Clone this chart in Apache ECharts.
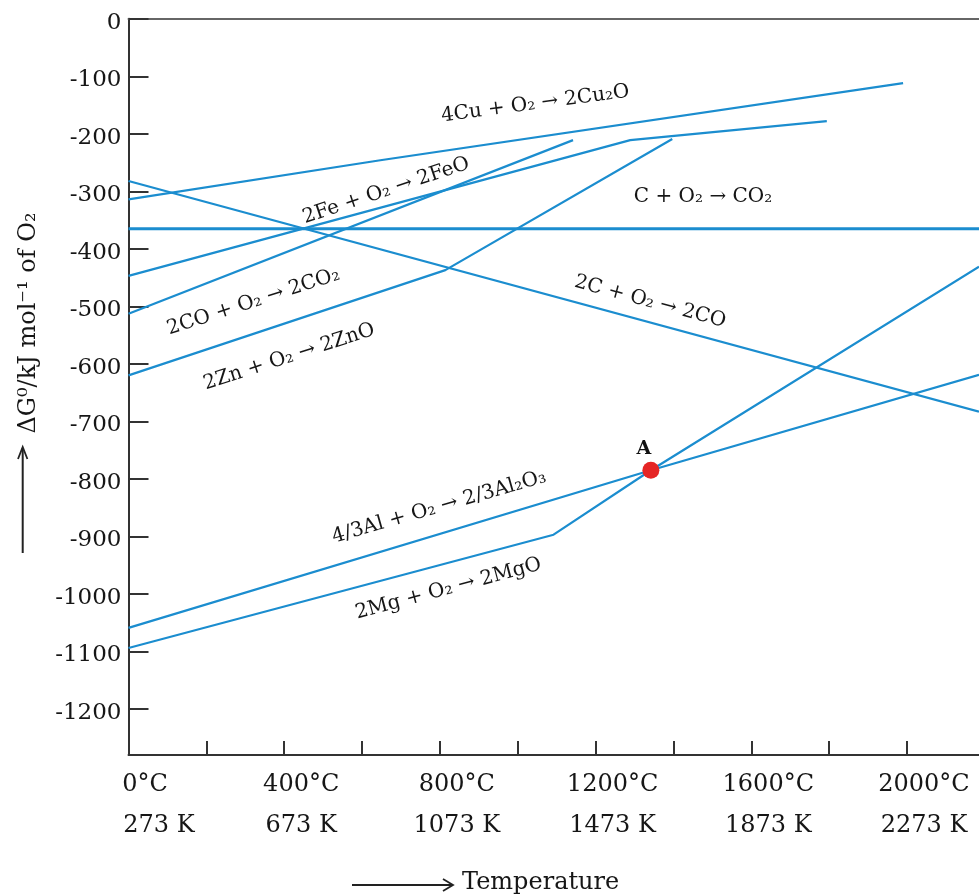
<!DOCTYPE html>
<html>
<head>
<meta charset="utf-8">
<script src="https://cdn.jsdelivr.net/npm/echarts@6/dist/echarts.min.js"></script>
<style>
html,body{margin:0;padding:0;background:#fff;}
#c{width:979px;height:896px;}
</style>
</head>
<body>
<div id="c"></div>
<script>
// ---- data (°C on x, kJ mol^-1 of O2 on y) ----
const tempLabelsC = [0, 400, 800, 1200, 1600, 2000];
const tempLabelsK = [273, 673, 1073, 1473, 1873, 2273];
const tempTicksC = [200, 400, 600, 800, 1000, 1200, 1400, 1600, 1800, 2000];
const gTicks = [0, -100, -200, -300, -400, -500, -600, -700, -800, -900, -1000, -1100, -1200];

const reactions = [
  '4Cu + O₂ → 2Cu₂O',
  '2Fe + O₂ → 2FeO',
  'C + O₂ → CO₂',
  '2C + O₂ → 2CO',
  '2CO + O₂ → 2CO₂',
  '2Zn + O₂ → 2ZnO',
  '4/3Al + O₂ → 2/3Al₂O₃',
  '2Mg + O₂ → 2MgO'
];
const cu2o   = [[0, -314], [647, -246], [1990, -112]];
const feo    = [[0, -447], [1289, -211], [1794, -178]];
const cToCO2 = [[0, -365], [2185, -365]];
const cToCO  = [[0, -282], [2185, -683]];
const coToCO2 = [[0, -513], [1142, -211]];
const zno    = [[0, -620], [814, -437], [1397, -209]];
const al2o3  = [[0, -1059], [1342, -785], [2185, -619]];
const mgo    = [[0, -1094], [1092, -897], [1342, -785], [2185, -431]];
const pointA = [[1342, -785]];

const seriesData = [cu2o, feo, cToCO2, cToCO, coToCO2, zno, al2o3, mgo];

// ---- styling / annotation placement ----
const FONT = 'DejaVu Serif';
const BLUE = '#1b8dcf';
const TXT = '#161616';
const labelPlace = [
  {coord: [1045, -148], rotate: 7.5},
  {coord: [662, -299], rotate: 18.5},
  {coord: [1476, -310], rotate: 0},
  {coord: [1340, -492], rotate: -15},
  {coord: [321, -492], rotate: 18},
  {coord: [413, -588], rotate: 18},
  {coord: [798, -849], rotate: 16},
  {coord: [822, -991], rotate: 15}
];

const series = seriesData.map((d, i) => ({
  type: 'line',
  name: reactions[i],
  data: d,
  showSymbol: false,
  symbol: 'none',
  silent: true,
  lineStyle: {color: BLUE, width: i === 2 ? 3 : 2.2},
  markPoint: {
    symbol: 'circle',
    symbolSize: 1,
    itemStyle: {color: 'rgba(0,0,0,0)'},
    silent: true,
    data: [{
      coord: labelPlace[i].coord,
      label: {
        show: true,
        position: 'inside',
        formatter: reactions[i],
        rotate: labelPlace[i].rotate,
        fontFamily: FONT,
        fontSize: 20,
        color: TXT,
        align: 'center',
        verticalAlign: 'middle'
      }
    }]
  }
}));

series.push({
  type: 'scatter',
  data: pointA,
  symbolSize: 17,
  z: 10,
  itemStyle: {color: '#e52525', opacity: 1},
  label: {
    show: true,
    formatter: 'A',
    position: 'top',
    distance: 3,
    offset: [-7, 0],
    fontFamily: FONT,
    fontWeight: 'bold',
    fontSize: 19,
    color: '#111'
  }
});

const chart = echarts.init(document.getElementById('c'));
chart.setOption({
  animation: false,
  backgroundColor: '#fff',
  grid: {left: 128.5, right: 0, top: 18.75, bottom: 141, containLabel: false, outerBoundsMode: 'none'},
  xAxis: [{
    type: 'value', min: 0, max: 2185, position: 'bottom',
    axisLine: {show: true, onZero: false, lineStyle: {color: '#333', width: 2}},
    axisTick: {show: true, inside: true, length: 14, customValues: tempTicksC, lineStyle: {color: '#333', width: 2}},
    axisLabel: {
      customValues: tempLabelsC,
      margin: 9,
      formatter: function (v) {
        const i = tempLabelsC.indexOf(v);
        if (i < 0) return '';
        if (i === 0) return '{z1|' + v + '°C}\n{z2|' + tempLabelsK[i] + ' K}';
        return '{a|' + v + '°C}\n{a|' + tempLabelsK[i] + ' K}';
      },
      rich: {
        a: {fontFamily: FONT, fontSize: 24, lineHeight: 41, color: TXT, padding: [0, 0, 0, 34]},
        z1: {fontFamily: FONT, fontSize: 24, lineHeight: 41, color: TXT, padding: [0, 0, 0, 33]},
        z2: {fontFamily: FONT, fontSize: 24, lineHeight: 41, color: TXT, padding: [0, 0, 0, 61]}
      }
    },
    splitLine: {show: false}
  }, {
    type: 'value', min: 0, max: 2185, position: 'top',
    axisLine: {show: true, onZero: false, lineStyle: {color: '#666', width: 2}},
    axisTick: {show: false}, axisLabel: {show: false}, splitLine: {show: false}
  }],
  yAxis: {
    type: 'value', min: -1280, max: 0,
    axisLine: {show: true, onZero: false, lineStyle: {color: '#333', width: 2}},
    axisTick: {show: true, inside: true, length: 20, customValues: gTicks, lineStyle: {color: '#333', width: 2}},
    axisLabel: {
      customValues: gTicks,
      margin: 7,
      formatter: function (v) { return '{a|' + String(v) + '}'; },
      rich: {a: {fontFamily: FONT, fontSize: 23, color: TXT, padding: [8, 0, 0, 0]}}
    },
    splitLine: {show: false}
  },
  graphic: [
    {type: 'line', shape: {x1: 22.7, y1: 553, x2: 22.7, y2: 448}, style: {stroke: '#222', lineWidth: 2}},
    {type: 'polyline', shape: {points: [[18, 459], [22.7, 447], [27.4, 459]]}, style: {stroke: '#222', fill: null, lineWidth: 1.8}},
    {type: 'text', x: 29, y: 323, rotation: Math.PI / 2,
      style: {text: 'ΔG⁰/kJ mol⁻¹ of O₂', font: '24px "DejaVu Serif"', fill: TXT, textAlign: 'center', textVerticalAlign: 'middle'}},
    {type: 'line', shape: {x1: 352, y1: 885, x2: 452, y2: 885}, style: {stroke: '#222', lineWidth: 2}},
    {type: 'polyline', shape: {points: [[443, 879], [453, 885], [443, 891]]}, style: {stroke: '#222', fill: null, lineWidth: 1.8}},
    {type: 'text', x: 462, y: 883,
      style: {text: 'Temperature', font: '24px "DejaVu Serif"', fill: TXT, textAlign: 'left', textVerticalAlign: 'middle'}}
  ],
  series: series
});
</script>
</body>
</html>
